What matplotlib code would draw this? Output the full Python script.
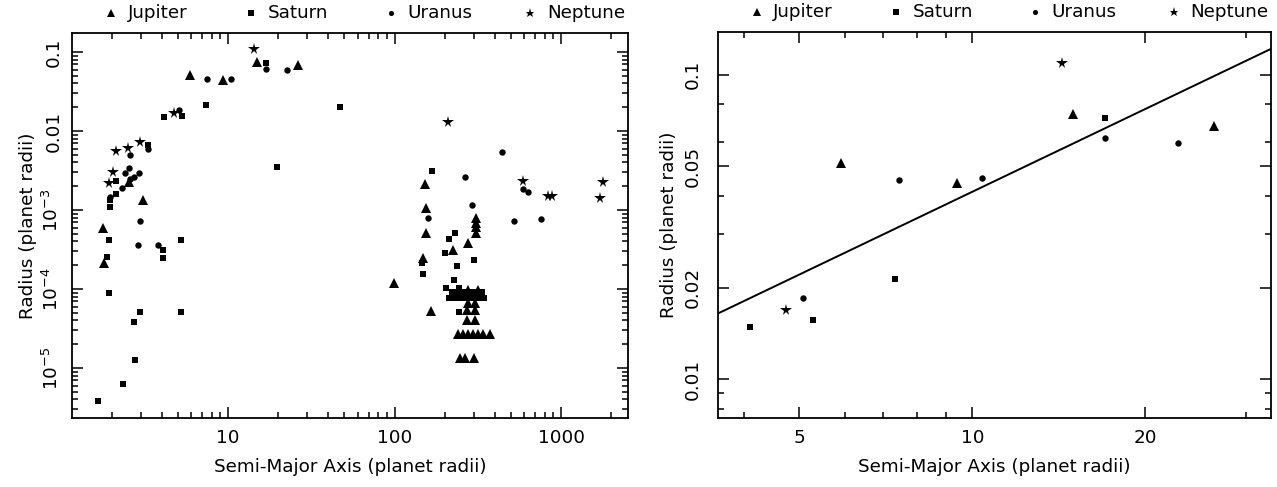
import matplotlib
matplotlib.use('Agg')
import matplotlib.pyplot as plt
from matplotlib.ticker import NullFormatter

# Satellite orbits: semi-major axis and radius, both in planet radii
jupiter_a = [5.90, 9.39, 14.96, 26.3, 2.53, 3.10, 1.78, 1.80,
             152, 155, 309, 309, 309, 309, 155, 277, 224, 148, 99.3,
             277, 316, 277, 303, 166, 272, 303, 272, 303,
             240, 258, 277, 296, 316, 339, 375, 247, 265, 300]
jupiter_r = [0.0512, 0.0440, 0.0742, 0.0680, 0.00228, 0.00134, 5.86e-4, 2.15e-4,
             0.00213, 0.00105, 7.85e-4, 6.9e-4, 6.15e-4, 5.07e-4, 5.07e-4, 3.79e-4, 3.12e-4, 2.44e-4, 1.2e-4,
             9.7e-5, 9.7e-5, 6.6e-5, 6.6e-5, 5.3e-5, 5.42e-5, 5.42e-5, 4.06e-5, 4.06e-5,
             2.69e-5, 2.69e-5, 2.69e-5, 2.69e-5, 2.69e-5, 2.69e-5, 2.69e-5, 1.33e-5, 1.33e-5, 1.33e-5]

saturn_a = [4.10, 5.28, 7.34, 17.03, 19.8, 47.1, 3.31, 2.12, 2.12, 1.96, 1.97,
            1.92, 5.22, 4.07, 4.07, 1.87, 1.92, 2.96, 5.22, 2.73, 2.76, 2.33, 1.65,
            169, 231, 212, 201, 146, 300, 236, 148, 228, 204, 244, 244,
            221, 240, 261, 284, 308, 335,
            212, 231, 251, 272, 296, 321, 345]
saturn_r = [0.01483, 0.01563, 0.02133, 0.0722, 0.00353, 0.0201, 0.00659, 0.00233, 0.00158, 0.00134, 0.0011,
            4.17e-4, 4.17e-4, 3.12e-4, 2.49e-4, 2.56e-4, 8.97e-5, 5.16e-5, 5.16e-5, 3.86e-5, 1.26e-5, 6.32e-6, 3.86e-6,
            0.00315, 5.16e-4, 4.26e-4, 2.88e-4, 2.11e-4, 2.33e-4, 1.97e-4, 1.56e-4, 1.3e-4, 1.04e-4, 1.04e-4, 5.17e-5,
            9.16e-5, 9.16e-5, 9.16e-5, 9.16e-5, 9.16e-5, 9.16e-5,
            7.7e-5, 7.7e-5, 7.7e-5, 7.7e-5, 7.7e-5, 7.7e-5, 7.7e-5]

uranus_a = [5.07, 7.46, 10.39, 17.03, 22.76, 3.33, 2.58, 2.53, 2.41, 2.93, 2.73, 2.58, 2.31, 1.96,
            2.97, 2.89, 3.78, 444, 265, 589, 631, 293, 158, 522, 755]
uranus_r = [0.01842, 0.0452, 0.0457, 0.0617, 0.0596, 0.00592, 0.00497, 0.0034, 0.00291, 0.00291, 0.00264,
            0.00247, 0.00188, 0.00147, 7.26e-4, 3.6e-4, 3.6e-4, 0.00547, 0.00264, 0.00183, 0.00171,
            0.00116, 8.0e-4, 7.33e-4, 7.62e-4]

neptune_a = [4.74, 14.30, 2.12, 2.51, 2.95, 2.03, 1.94, 209, 589, 839, 879, 1778, 1714]
neptune_r = [0.01686, 0.1093, 0.00564, 0.00604, 0.00733, 0.00305, 0.00218, 0.0130,
             0.00233, 0.00152, 0.00152, 0.00228, 0.00143]

# power-law fit shown on the zoomed panel (end points)
fit_a = [3.61, 33.1]
fit_r = [0.01644, 0.1215]

# tick positions / labels
left_xmajor = [10, 100, 1000]
left_xlabels = ['10', '100', '1000']
left_ymajor = [0.1, 0.01, 1e-3, 1e-4, 1e-5]
left_ylabels = ['0.1', '0.01', r'$10^{-3}$', r'$10^{-4}$', r'$10^{-5}$']
right_xmajor = [5, 10, 20]
right_xlabels = ['5', '10', '20']
right_xminor = [4, 6, 7, 8, 9, 30]
right_ymajor = [0.01, 0.02, 0.05, 0.1]
right_ylabels = ['0.01', '0.02', '0.05', '0.1']
right_yminor = [0.008, 0.009, 0.03, 0.04, 0.06, 0.08]

planets = ['Jupiter', 'Saturn', 'Uranus', 'Neptune']
markers = {'Jupiter': ('^', 6.5), 'Saturn': ('s', 4.6), 'Uranus': ('o', 4.6), 'Neptune': ('*', 8.5)}
data = {'Jupiter': (jupiter_a, jupiter_r), 'Saturn': (saturn_a, saturn_r),
        'Uranus': (uranus_a, uranus_r), 'Neptune': (neptune_a, neptune_r)}

plt.rcParams['font.family'] = ['DejaVu Sans']
plt.rcParams['mathtext.default'] = 'regular'
FS = 13.2


def draw_panel(ax, xlim, ylim, xt, yt, ypad):
    for p in planets:
        m, ms = markers[p]
        ax.plot(data[p][0], data[p][1], ls='none', marker=m, ms=ms, color='black', mec='black', mew=0)
    ax.set_xscale('log')
    ax.set_yscale('log')

    # ticks after the scale, otherwise set_xscale wipes them
    ax.set_xticks(xt[0], xt[1])
    ax.set_xticks(xt[2], minor=True)
    ax.set_yticks(yt[0], yt[1])
    ax.set_yticks(yt[2], minor=True)
    ax.xaxis.set_minor_formatter(NullFormatter())
    ax.yaxis.set_minor_formatter(NullFormatter())
    # limits last, set_xticks widens the view
    ax.set_xlim(*xlim)
    ax.set_ylim(*ylim)

    for s in ax.spines.values():
        s.set_linewidth(1.3)
    ax.tick_params(which='both', direction='in', top=True, right=True, labelsize=FS, width=1.1)
    ax.tick_params(which='major', length=8)
    ax.tick_params(which='minor', length=4)
    ax.tick_params(axis='x', pad=8)
    ax.tick_params(axis='y', pad=ypad, labelrotation=90)
    for lab in ax.get_yticklabels():
        lab.set_va('center')
    ax.set_xlabel('Semi-Major Axis (planet radii)', fontsize=FS, labelpad=8)
    ax.set_ylabel('Radius (planet radii)', fontsize=FS, labelpad=4)

    # key above the frame
    for i, p in enumerate(planets):
        m, ms = markers[p]
        x0 = 0.07 + i * 0.2515
        ax.plot([x0], [1.052], transform=ax.transAxes, ls='none', marker=m, ms=ms * 0.8,
                color='black', mew=0, clip_on=False)
        ax.text(x0 + 0.03, 1.052, p, transform=ax.transAxes, fontsize=FS, va='center', ha='left')


fig = plt.figure(figsize=(12.77, 4.87), dpi=100)
ax1 = fig.add_axes([72 / 1277, 1 - 418 / 487, 556 / 1277, 385 / 487])
ax2 = fig.add_axes([718 / 1277, 1 - 418 / 487, 553 / 1277, 386 / 487])

# left: all satellites
left_xminor = [s * 10.0 ** d for d in range(0, 4) for s in range(2, 10)]
left_yminor = [s * 10.0 ** d for d in range(-6, 0) for s in range(2, 10)]
draw_panel(ax1, (1.157, 2523), (2.33e-6, 0.174),
           (left_xmajor, left_xlabels, left_xminor), (left_ymajor, left_ylabels, left_yminor), 7)

# right: zoom on the inner regular moons with the fit
ax2.plot(fit_a, fit_r, color='black', lw=1.4)
draw_panel(ax2, (3.61, 33.1), (0.00746, 0.138),
           (right_xmajor, right_xlabels, right_xminor), (right_ymajor, right_ylabels, right_yminor), 12)

fig.savefig('out.png', dpi=100)
